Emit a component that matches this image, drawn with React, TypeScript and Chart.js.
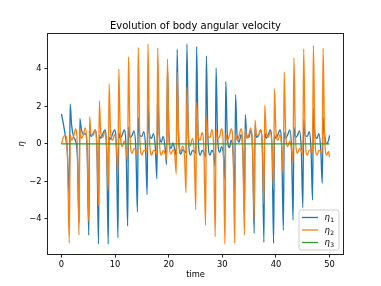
import React, { useEffect, useRef } from 'react';
import { Chart, registerables } from 'chart.js';

Chart.register(...registerables);

// sample times (shared by eta1 and eta2)
const time = [
  0, 0.35, 0.75, 1.1,
  1.47, 1.63, 1.90, 2.30, 2.65, 3.00,
  3.28, 3.44, 3.71, 4.11, 4.46, 4.81,
  5.10, 5.26, 5.53, 5.93, 6.28, 6.63,
  6.91, 7.07, 7.34, 7.74, 8.09, 8.44,
  8.73, 8.89, 9.16, 9.56, 9.91, 10.26,
  10.54, 10.70, 10.97, 11.37, 11.72, 12.07,
  12.35, 12.51, 12.78, 13.18, 13.53, 13.88,
  14.17, 14.33, 14.60, 15.00, 15.35, 15.70,
  15.98, 16.14, 16.41, 16.81, 17.16, 17.51,
  17.80, 17.96, 18.23, 18.63, 18.98, 19.33,
  19.61, 19.77, 20.04, 20.44, 20.79, 21.14,
  21.42, 21.58, 21.85, 22.25, 22.60, 22.95,
  23.24, 23.40, 23.67, 24.07, 24.42, 24.77,
  25.05, 25.21, 25.48, 25.88, 26.23, 26.58,
  26.87, 27.03, 27.30, 27.70, 28.05, 28.40,
  28.68, 28.84, 29.11, 29.51, 29.86, 30.21,
  30.49, 30.65, 30.92, 31.32, 31.67, 32.02,
  32.31, 32.47, 32.74, 33.14, 33.49, 33.84,
  34.12, 34.28, 34.55, 34.95, 35.30, 35.65,
  35.94, 36.10, 36.37, 36.77, 37.12, 37.47,
  37.75, 37.91, 38.18, 38.58, 38.93, 39.28,
  39.56, 39.72, 39.99, 40.39, 40.74, 41.09,
  41.38, 41.54, 41.81, 42.21, 42.56, 42.91,
  43.19, 43.35, 43.62, 44.02, 44.37, 44.72,
  45.01, 45.17, 45.44, 45.84, 46.19, 46.54,
  46.82, 46.98, 47.25, 47.65, 48.00, 48.35,
  48.63, 48.79, 49.06, 49.46, 49.81, 50.00,
];

const eta1 = [
  1.6, 1.1, 0.4, -0.4,
  -2.8, 2.13, 1.0, 0.35, 0.15, -0.8,
  -4.2, 1.35, 0.8, 0.5, 0.55, -0.5,
  -4.88, 0.75, 0.4, 0.55, 0.75, -0.4,
  -5.33, 0.45, 0.3, 0.55, 0.75, -0.4,
  -5.35, 0.35, 0.25, 0.55, 0.75, -0.4,
  -5.0, 0.6, 0.3, 0.5, 0.75, -0.35,
  -4.38, 0.9, 0.35, 0.45, 0.7, -0.3,
  -3.63, 1.4, 0.45, 0.4, 0.65, -0.25,
  -2.7, 2.2, 0.55, 0.3, 0.55, -0.2,
  -1.86, 3.1, 0.6, 0.1, 0.4, -0.2,
  -1.1, 4.1, 0.55, -0.25, 0.05, -0.3,
  -0.62, 5.05, 0.45, -0.55, -0.3, -0.4,
  -0.45, 5.33, 0.45, -0.6, -0.35, -0.4,
  -0.5, 5.19, 0.45, -0.6, -0.35, -0.45,
  -0.7, 4.69, 0.45, -0.6, -0.35, -0.55,
  -1.2, 4.04, 0.45, -0.45, -0.15, -0.6,
  -1.9, 3.33, 0.5, -0.2, 0.2, -0.55,
  -2.7, 2.62, 0.5, 0.1, 0.5, -0.5,
  -3.6, 1.56, 0.45, 0.35, 0.7, -0.45,
  -4.77, 1.0, 0.35, 0.45, 0.75, -0.4,
  -5.25, 0.6, 0.3, 0.5, 0.75, -0.4,
  -5.3, 0.45, 0.3, 0.5, 0.75, -0.4,
  -4.6, 0.6, 0.3, 0.5, 0.75, -0.35,
  -4.06, 0.9, 0.35, 0.45, 0.7, -0.3,
  -3.4, 1.3, 0.45, 0.4, 0.65, -0.3,
  -3.0, 1.9, 0.55, 0.3, 0.55, -0.3,
  -2.1, 1.4, 0.5, 0.0, 0.2, 0.45,
];

const eta2 = [
  0.0, 0.35, 0.45, -0.4,
  -5.28, 0.5, 0.2, 0.45, 0.8, -0.4,
  -4.86, 0.8, 0.3, 0.5, 0.85, -0.3,
  -4.15, 1.45, 0.45, 0.45, 0.75, -0.25,
  -3.3, 2.3, 0.6, 0.35, 0.65, -0.2,
  -2.45, 3.2, 0.7, 0.2, 0.5, -0.15,
  -1.6, 4.0, 0.6, -0.15, 0.15, -0.25,
  -0.95, 4.65, 0.5, -0.5, -0.25, -0.35,
  -0.6, 5.15, 0.45, -0.6, -0.35, -0.35,
  -0.45, 5.33, 0.45, -0.6, -0.35, -0.4,
  -0.55, 5.12, 0.45, -0.6, -0.35, -0.5,
  -0.85, 4.53, 0.4, -0.55, -0.3, -0.6,
  -1.6, 3.83, 0.4, -0.4, -0.1, -0.65,
  -2.6, 3.03, 0.45, -0.1, 0.3, -0.55,
  -3.5, 2.2, 0.45, 0.2, 0.6, -0.45,
  -4.33, 1.4, 0.4, 0.35, 0.75, -0.4,
  -4.95, 0.8, 0.3, 0.4, 0.8, -0.4,
  -5.33, 0.55, 0.2, 0.45, 0.8, -0.4,
  -5.3, 0.5, 0.2, 0.45, 0.8, -0.4,
  -4.86, 0.8, 0.3, 0.5, 0.85, -0.3,
  -4.0, 1.26, 0.45, 0.45, 0.75, -0.25,
  -3.2, 2.05, 0.6, 0.35, 0.65, -0.2,
  -2.4, 2.94, 0.7, 0.2, 0.5, -0.15,
  -1.6, 3.83, 0.6, -0.15, 0.15, -0.25,
  -0.95, 4.59, 0.5, -0.5, -0.25, -0.35,
  -0.6, 5.07, 0.45, -0.6, -0.35, -0.35,
  -0.45, 5.25, 0.45, -0.6, -0.35, -0.4,
  -0.55, 5.1, 0.45, -0.6, -0.4, -0.7,
];

const eta3Time = [0, 50];
const eta3 = [0, 0];

const xTicks = [0, 10, 20, 30, 40, 50];
const yTicks = [-4, -2, 0, 2, 4];
const seriesNames = ['η₁', 'η₂', 'η₃'];
const subscripts = ['1', '2', '3'];
const seriesColors = ['#1f77b4', '#ff7f0e', '#2ca02c'];
const titleText = 'Evolution of body angular velocity';
const xLabel = 'time';
const yLabel = 'η';

const FONT = "'DejaVu Sans', sans-serif";

export default function App() {
  const ref = useRef<HTMLCanvasElement | null>(null);

  useEffect(() => {
    if (!ref.current) return;
    const pts = (xs: number[], ys: number[]) => xs.map((x, i) => ({ x, y: ys[i] }));

    const decor = {
      id: 'decor',
      afterDraw(chart: any) {
        const { ctx, chartArea: a } = chart;
        ctx.save();
        ctx.strokeStyle = '#222';
        ctx.lineWidth = 1;
        ctx.strokeRect(Math.round(a.left) - 0.5, Math.round(a.top) - 0.5, Math.round(a.right - a.left) + 1, Math.round(a.bottom - a.top) + 1);
        ctx.fillStyle = '#000';
        ctx.font = `10px ${FONT}`;
        ctx.textAlign = 'center';
        ctx.textBaseline = 'alphabetic';
        ctx.fillText(titleText, (a.left + a.right) / 2, a.top - 5);
        const bw = 40, bh = 40;
        const bx = a.right - 4 - bw, by = a.bottom - 4 - bh;
        const r = 2.5;
        ctx.beginPath();
        ctx.moveTo(bx + r, by);
        ctx.lineTo(bx + bw - r, by);
        ctx.quadraticCurveTo(bx + bw, by, bx + bw, by + r);
        ctx.lineTo(bx + bw, by + bh - r);
        ctx.quadraticCurveTo(bx + bw, by + bh, bx + bw - r, by + bh);
        ctx.lineTo(bx + r, by + bh);
        ctx.quadraticCurveTo(bx, by + bh, bx, by + bh - r);
        ctx.lineTo(bx, by + r);
        ctx.quadraticCurveTo(bx, by, bx + r, by);
        ctx.closePath();
        ctx.fillStyle = 'rgba(255,255,255,0.8)';
        ctx.fill();
        ctx.strokeStyle = '#cccccc';
        ctx.lineWidth = 1;
        ctx.stroke();
        for (let i = 0; i < seriesNames.length; i++) {
          const cy = by + 7.5 + i * 12.5;
          ctx.strokeStyle = seriesColors[i];
          ctx.lineWidth = 1.3;
          ctx.beginPath();
          ctx.moveTo(bx + 3, cy);
          ctx.lineTo(bx + 19, cy);
          ctx.stroke();
          ctx.fillStyle = '#000';
          ctx.textAlign = 'left';
          ctx.font = `italic 8.5px ${FONT}`;
          const tx = bx + 25.5;
          ctx.fillText('η', tx, cy + 2.5);
          const w = ctx.measureText('η').width;
          ctx.font = `6px ${FONT}`;
          ctx.fillText(subscripts[i], tx + w + 0.3, cy + 4.5);
        }
        ctx.restore();
      },
    };

    const lineOpts = { borderWidth: 1.3, pointRadius: 0, cubicInterpolationMode: 'monotone' as const, fill: false };

    const chart = new Chart(ref.current, {
      type: 'line',
      data: {
        datasets: [
          { label: seriesNames[0], data: pts(time, eta1), borderColor: seriesColors[0], order: 3, ...lineOpts },
          { label: seriesNames[1], data: pts(time, eta2), borderColor: seriesColors[1], order: 2, ...lineOpts },
          { label: seriesNames[2], data: pts(eta3Time, eta3), borderColor: seriesColors[2], order: 1, ...lineOpts },
        ],
      },
      options: {
        responsive: false,
        animation: false,
        events: [],
        layout: { padding: { left: 0, top: 34, right: 38, bottom: 0 } },
        plugins: { legend: { display: false }, title: { display: false }, tooltip: { enabled: false } },
        scales: {
          x: {
            type: 'linear',
            min: -2.5,
            max: 52.5,
            afterBuildTicks: (s: any) => { s.ticks = xTicks.map((v) => ({ value: v })); },
            afterFit: (s: any) => { s.height = 32; },
            grid: { drawOnChartArea: false, drawTicks: true, tickLength: 3.5, tickColor: '#222', tickWidth: 1 },
            border: { display: false },
            ticks: { color: '#000', font: { family: FONT, size: 8.3 }, padding: 2.5, maxRotation: 0, autoSkip: false },
            title: { display: true, text: xLabel, color: '#000', font: { family: FONT, size: 8.3 }, padding: { top: 0, bottom: 6 } },
          },
          y: {
            type: 'linear',
            min: -5.87,
            max: 5.86,
            afterBuildTicks: (s: any) => { s.ticks = yTicks.map((v) => ({ value: v })); },
            afterFit: (s: any) => { s.width = 48; },
            grid: { drawOnChartArea: false, drawTicks: true, tickLength: 3.5, tickColor: '#222', tickWidth: 1 },
            border: { display: false },
            ticks: {
              color: '#000',
              font: { family: FONT, size: 8.3 },
              padding: 3,
              autoSkip: false,
              callback: (v: any) => (v < 0 ? '\u2212' + Math.abs(v) : String(v)),
            },
            title: { display: true, text: yLabel, color: '#000', font: { family: FONT, size: 8.5, style: 'italic' }, padding: { top: 17, bottom: 0 } },
          },
        },
      },
      plugins: [decor],
    });
    return () => chart.destroy();
  }, []);

  return (
    <div style={{ position: 'absolute', left: 0, top: 0, width: 381, height: 286, background: '#fff' }}>
      <canvas ref={ref} width={381} height={286} style={{ width: 381, height: 286, display: 'block' }} />
    </div>
  );
}
